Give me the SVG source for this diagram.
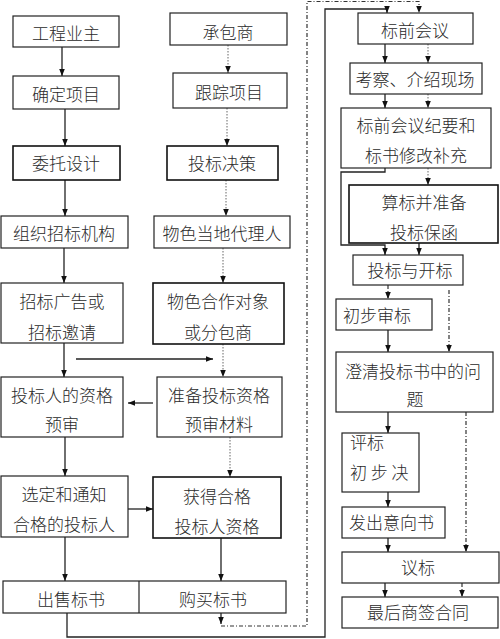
<svg xmlns="http://www.w3.org/2000/svg" width="500" height="639" viewBox="0 0 500 639">
<style>
.bx{fill:#fff;stroke:#222;stroke-width:1.2}
.bk{fill:#fff;stroke:#111;stroke-width:1.6}
text{font-family:"Noto Sans CJK SC","Noto Sans",sans-serif;font-size:17px;font-weight:300;fill:#2a2a2a}
.c{text-anchor:middle}
.s{fill:none;stroke:#222;stroke-width:1.3}
.d{fill:none;stroke:#666;stroke-width:1;stroke-dasharray:1.5,1.5}
.dd{fill:none;stroke:#333;stroke-width:1.2;stroke-dasharray:4,2,1,2}
</style>
<defs>
<marker id="ah" viewBox="0 0 10 10" refX="10" refY="5" markerWidth="7" markerHeight="7" markerUnits="userSpaceOnUse" orient="auto">
<path d="M0,1 L10,5 L0,9 z" fill="#111"/>
</marker>
</defs>
<rect width="500" height="639" fill="#fff"/>

<g id="connectors">
<path class="s" d="M62,47 V76" marker-end="url(#ah)"/>
<path class="s" d="M65,109 V146" marker-end="url(#ah)"/>
<path class="s" d="M65,180 V216" marker-end="url(#ah)"/>
<path class="s" d="M64,248 V283" marker-end="url(#ah)"/>
<path class="s" d="M64,343 V377" marker-end="url(#ah)"/>
<path class="s" d="M65,437 V476" marker-end="url(#ah)"/>
<path class="s" d="M65,537 V581" marker-end="url(#ah)"/>
<path class="s" d="M128,509 H153" marker-end="url(#ah)"/>
<path class="s" d="M221,538 V581" marker-end="url(#ah)"/>
<path class="s" d="M76,359 H213" marker-end="url(#ah)"/>
<path class="s" d="M153,403 H128" marker-end="url(#ah)"/>

<path class="d" d="M228,45 V73" marker-end="url(#ah)"/>
<path class="d" d="M227,108 V146" marker-end="url(#ah)"/>
<path class="d" d="M226,180 V216" marker-end="url(#ah)"/>
<path class="d" d="M223,248 V283" marker-end="url(#ah)"/>
<path class="d" d="M223,344 V377" marker-end="url(#ah)"/>
<path class="d" d="M230,437 V477" marker-end="url(#ah)"/>

<path class="s" d="M67,613 V637 H325 V9 H387 V13" marker-end="url(#ah)"/>
<path class="s" d="M221,613 V624" marker-end="url(#ah)"/>
<path class="dd" d="M221,626 H307 V1.5 H419 V13" marker-end="url(#ah)"/>

<path class="s" d="M385,44 V63" marker-end="url(#ah)"/>
<path class="d" d="M428,44 V63" marker-end="url(#ah)"/>
<path class="s" d="M385,94 V108" marker-end="url(#ah)"/>
<path class="d" d="M428,94 V108" marker-end="url(#ah)"/>
<path class="s" d="M385,168 V172 H341 V245 H385 V255" marker-end="url(#ah)"/>
<path class="d" d="M428,168 V185" marker-end="url(#ah)"/>
<path class="s" d="M419,243 V255" marker-end="url(#ah)"/>
<path class="dd" d="M388,285 V299" marker-end="url(#ah)"/>
<path class="dd" d="M449,290 V352" marker-end="url(#ah)"/>
<path class="s" d="M388,330 V352" marker-end="url(#ah)"/>
<path class="s" d="M388,412 V433" marker-end="url(#ah)"/>
<path class="dd" d="M466,412 V552" marker-end="url(#ah)"/>
<path class="s" d="M388,492 V507" marker-end="url(#ah)"/>
<path class="s" d="M388,538 V552" marker-end="url(#ah)"/>
<path class="s" d="M385,583 V597" marker-end="url(#ah)"/>
<path class="dd" d="M462,583 V597" marker-end="url(#ah)"/>
</g>

<g id="n1"><rect class="bx" x="13" y="16" width="106" height="31"/><text class="c" x="66" y="40">工程业主</text></g>
<g id="n2"><rect class="bx" x="13" y="76" width="106" height="33"/><text class="c" x="66" y="101">确定项目</text></g>
<g id="n3"><rect class="bk" x="13" y="146" width="107" height="34"/><text class="c" x="66" y="170">委托设计</text></g>
<g id="n4"><rect class="bx" x="1" y="216" width="127" height="32"/><text class="c" x="64" y="240">组织招标机构</text></g>
<g id="n5"><rect class="bx" x="1" y="283" width="122" height="60"/><text class="c" x="62" y="308">招标广告或</text><text class="c" x="62" y="339">招标邀请</text></g>
<g id="n6"><rect class="bx" x="1" y="377" width="122" height="60"/><text class="c" x="62" y="402">投标人的资格</text><text class="c" x="62" y="431">预审</text></g>
<g id="n7"><rect class="bx" x="1" y="476" width="127" height="61"/><text class="c" x="64" y="501">选定和通知</text><text class="c" x="64" y="531">合格的投标人</text></g>
<g id="n8"><rect class="bx" x="3" y="581" width="283" height="32"/><line x1="139" y1="581" x2="139" y2="613" stroke="#222" stroke-width="1.2"/><text class="c" x="71" y="606">出售标书</text><text class="c" x="213" y="606">购买标书</text></g>

<g id="m1"><rect class="bx" x="170" y="13" width="117" height="32"/><text class="c" x="228" y="39">承包商</text></g>
<g id="m2"><rect class="bx" x="173" y="73" width="114" height="35"/><text class="c" x="229" y="99">跟踪项目</text></g>
<g id="m3"><rect class="bk" x="167" y="146" width="111" height="34"/><text class="c" x="222" y="170">投标决策</text></g>
<g id="m4"><rect class="bx" x="154" y="216" width="136" height="32"/><text class="c" x="222" y="240">物色当地代理人</text></g>
<g id="m5"><rect class="bk" x="153" y="283" width="131" height="61"/><text class="c" x="218" y="308">物色合作对象</text><text class="c" x="218" y="339">或分包商</text></g>
<g id="m6"><rect class="bx" x="157" y="377" width="125" height="60"/><text class="c" x="219" y="402">准备投标资格</text><text class="c" x="219" y="431">预审材料</text></g>
<g id="m7"><rect class="bk" x="153" y="477" width="128" height="61"/><text class="c" x="217" y="503">获得合格</text><text class="c" x="217" y="533">投标人资格</text></g>

<g id="r1"><rect class="bx" x="358" y="13" width="115" height="31"/><text class="c" x="415" y="37">标前会议</text></g>
<g id="r2"><rect class="bx" x="350" y="63" width="132" height="31"/><text class="c" x="415" y="86">考察、介绍现场</text></g>
<g id="r3"><rect class="bx" x="341" y="108" width="150" height="60"/><text class="c" x="416" y="132">标前会议纪要和</text><text class="c" x="416" y="162">标书修改补充</text></g>
<g id="r4"><rect class="bk" x="349" y="185" width="149" height="58"/><text class="c" x="424" y="209">算标并准备</text><text class="c" x="424" y="239">投标保函</text></g>
<g id="r5"><rect class="bx" x="353" y="255" width="110" height="30"/><text class="c" x="410" y="277">投标与开标</text></g>
<g id="r6"><rect class="bx" x="336" y="299" width="96" height="31"/><text x="343" y="322">初步审标</text></g>
<g id="r7"><rect class="bx" x="336" y="352" width="157" height="60"/><text x="345" y="378">澄清投标书中的问</text><text class="c" x="415" y="406">题</text></g>
<g id="r8"><rect class="bx" x="342" y="433" width="77" height="59"/><text x="350" y="449">评标</text><text x="350" y="479">初 步 决</text></g>
<g id="r9"><rect class="bx" x="342" y="507" width="103" height="31"/><text x="349" y="529">发出意向书</text></g>
<g id="r10"><rect class="bx" x="342" y="552" width="157" height="31"/><text class="c" x="418" y="574">议标</text></g>
<g id="r11"><rect class="bx" x="342" y="597" width="156" height="31"/><text class="c" x="418" y="619">最后商签合同</text></g>
</svg>
